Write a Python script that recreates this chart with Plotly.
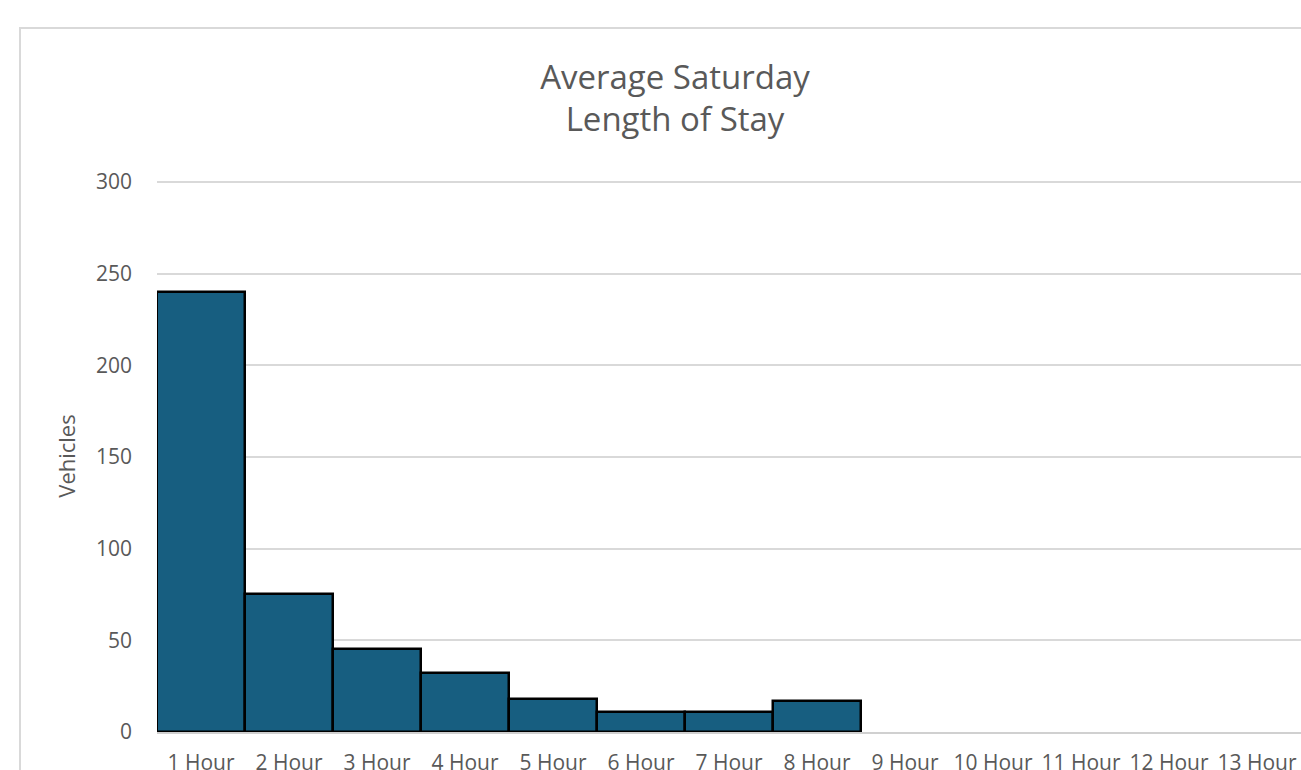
import plotly.graph_objects as go

# 数据
categories = ["1 Hour", "2 Hour", "3 Hour", "4 Hour", "5 Hour", "6 Hour", "7 Hour",
              "8 Hour", "9 Hour", "10 Hour", "11 Hour", "12 Hour", "13 Hour"]
vehicles = [240, 75, 45, 32, 18, 11, 11, 17, 0, 0, 0, 0, 0]
y_ticks = [0, 50, 100, 150, 200, 250, 300]

TEXT_COLOR = "#595959"
FONT = "Open Sans"

fig = go.Figure()
fig.add_trace(go.Bar(
    x=categories,
    y=vehicles,
    marker=dict(
        color="#175E80",
        # 空柱不画黑边
        line=dict(color="black", width=[2.5 if v > 0 else 0 for v in vehicles]),
    ),
    showlegend=False,
))

fig.update_layout(
    width=1301,
    height=770,
    margin=dict(l=157, r=0, t=180, b=38),
    plot_bgcolor="white",
    paper_bgcolor="white",
    bargap=0,
    font=dict(family=FONT, color=TEXT_COLOR),
    title=dict(
        text="Average Saturday<br>Length of Stay",
        x=(675 - 157) / 1144, xref="paper", xanchor="center",
        y=0.885, yanchor="top",
        font=dict(size=33, color=TEXT_COLOR, family=FONT),
    ),
    xaxis=dict(
        showgrid=False,
        showline=True, linecolor="#d0d0d0", linewidth=2,
        tickfont=dict(size=21, color=TEXT_COLOR),
        ticks="", tickangle=0,
        ticklabelstandoff=11,
        automargin=False,
    ),
    yaxis=dict(
        range=[0, 301],  # 稍高于 300，保证顶部网格线显示
        tickvals=y_ticks,
        showgrid=True, gridcolor="#d9d9d9", gridwidth=1.5,
        zeroline=False,
        showline=False,
        tickfont=dict(size=21, color=TEXT_COLOR),
        ticklabelstandoff=24,
        automargin=False,
        title=dict(text="Vehicles", font=dict(size=22, color=TEXT_COLOR), standoff=14),
    ),
    shapes=[dict(
        type="rect", xref="paper", yref="paper",
        x0=(20 - 157) / 1144, x1=1.2,
        y0=-0.5, y1=(732 - 28) / 552,
        line=dict(color="#d9d9d9", width=2),
        fillcolor="rgba(0,0,0,0)",
        layer="below",
    )],
)

# 去掉页面默认 body 边距，让图贴齐窗口左上角
fig.write_html(
    "out.html",
    config={"displayModeBar": False},
    post_script="document.body.style.margin='0';",
)
